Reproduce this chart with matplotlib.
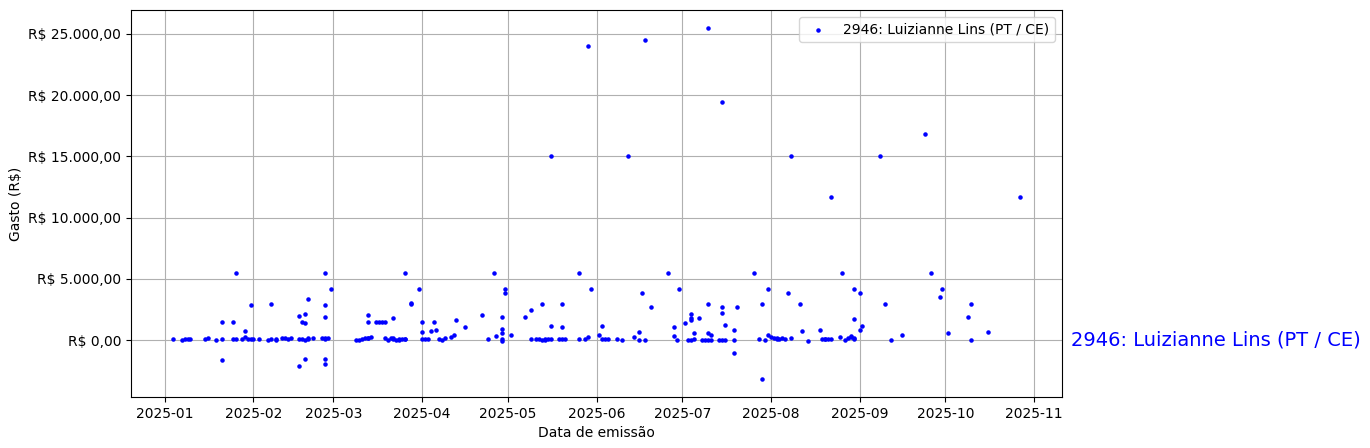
import matplotlib
matplotlib.use("Agg")
import matplotlib.pyplot as plt
import matplotlib.transforms as mtransforms
from matplotlib.ticker import FuncFormatter
import pandas as pd

serie_label = "2946: Luizianne Lins (PT / CE)"

# (data de emissão, gasto em R$)
pontos = [
    ("2025-01-04", 100), ("2025-01-07", 0), ("2025-01-08", 100), ("2025-01-09", 100),
    ("2025-01-10", 100), ("2025-01-15", 100), ("2025-01-16", 150), ("2025-01-19", 0),
    ("2025-01-21", 80), ("2025-01-21", 1450), ("2025-01-21", -1580),
    ("2025-01-25", 1450), ("2025-01-25", 80), ("2025-01-26", 80), ("2025-01-26", 5460),
    ("2025-01-28", 80), ("2025-01-29", 710), ("2025-01-29", 300), ("2025-01-30", 80),
    ("2025-01-31", 80), ("2025-01-31", 2840),
    ("2025-02-01", 80), ("2025-02-03", 80), ("2025-02-06", 0), ("2025-02-07", 80),
    ("2025-02-07", 2920), ("2025-02-09", 0), ("2025-02-09", 80), ("2025-02-11", 150),
    ("2025-02-12", 150), ("2025-02-13", 80), ("2025-02-14", 150),
    ("2025-02-17", 1940), ("2025-02-17", -2070), ("2025-02-17", 80),
    ("2025-02-18", 1470), ("2025-02-18", 80),
    ("2025-02-19", 1370), ("2025-02-19", -1500), ("2025-02-19", 0), ("2025-02-19", 2100),
    ("2025-02-20", 80), ("2025-02-20", 150), ("2025-02-20", 3330),
    ("2025-02-22", 150), ("2025-02-25", 150),
    ("2025-02-26", 150), ("2025-02-26", 1860), ("2025-02-26", 5460), ("2025-02-26", 2840),
    ("2025-02-26", -1500), ("2025-02-26", -1970), ("2025-02-26", 120),
    ("2025-02-27", 150), ("2025-02-28", 4150),
    ("2025-03-09", 50), ("2025-03-10", 0), ("2025-03-11", 80), ("2025-03-12", 150),
    ("2025-03-13", 150), ("2025-03-13", 180), ("2025-03-13", 2020), ("2025-03-13", 1450),
    ("2025-03-14", 250), ("2025-03-16", 1450), ("2025-03-17", 1450), ("2025-03-18", 1450),
    ("2025-03-19", 1450), ("2025-03-19", 150), ("2025-03-20", 0), ("2025-03-21", 150),
    ("2025-03-22", 200), ("2025-03-22", 80), ("2025-03-22", 1850), ("2025-03-23", 0),
    ("2025-03-24", 0), ("2025-03-24", 80), ("2025-03-25", 80),
    ("2025-03-26", 80), ("2025-03-26", 100), ("2025-03-26", 5460),
    ("2025-03-28", 3060), ("2025-03-28", 2920), ("2025-03-31", 4150),
    ("2025-04-01", 1450), ("2025-04-01", 630), ("2025-04-01", 80), ("2025-04-02", 80),
    ("2025-04-03", 80), ("2025-04-04", 710), ("2025-04-05", 1450), ("2025-04-06", 790),
    ("2025-04-07", 80), ("2025-04-08", 0), ("2025-04-09", 150), ("2025-04-11", 300),
    ("2025-04-12", 460), ("2025-04-13", 1610), ("2025-04-16", 1040), ("2025-04-22", 2020),
    ("2025-04-24", 80), ("2025-04-26", 5460), ("2025-04-27", 330),
    ("2025-04-29", 1860), ("2025-04-29", 950), ("2025-04-29", 550), ("2025-04-29", 80),
    ("2025-04-29", -30), ("2025-04-30", 4180), ("2025-04-30", 3820),
    ("2025-05-02", 460), ("2025-05-07", 1860), ("2025-05-09", 2430), ("2025-05-09", 80),
    ("2025-05-11", 80), ("2025-05-12", 80), ("2025-05-13", 0), ("2025-05-13", 2920),
    ("2025-05-14", 0), ("2025-05-14", 80), ("2025-05-15", 80),
    ("2025-05-16", 80), ("2025-05-16", 1120), ("2025-05-16", 15000),
    ("2025-05-19", 80), ("2025-05-20", 80), ("2025-05-20", 2920), ("2025-05-20", 1040),
    ("2025-05-21", 80), ("2025-05-26", 5460), ("2025-05-26", 80), ("2025-05-28", 80),
    ("2025-05-29", 250), ("2025-05-29", 24000), ("2025-05-30", 4180),
    ("2025-06-02", 410), ("2025-06-03", 1120), ("2025-06-03", 80), ("2025-06-04", 80),
    ("2025-06-05", 80), ("2025-06-08", 80), ("2025-06-10", 0), ("2025-06-12", 15000),
    ("2025-06-14", 220), ("2025-06-16", 630), ("2025-06-16", 50), ("2025-06-17", 3820),
    ("2025-06-18", 50), ("2025-06-18", 24450), ("2025-06-20", 2680), ("2025-06-26", 5460),
    ("2025-06-28", 1040), ("2025-06-28", 330), ("2025-06-29", 50), ("2025-06-30", 4180),
    ("2025-07-02", 1370), ("2025-07-03", 50),
    ("2025-07-04", 0), ("2025-07-04", 2100), ("2025-07-04", 1780), ("2025-07-04", 1670),
    ("2025-07-05", 80), ("2025-07-05", 550), ("2025-07-07", 1780), ("2025-07-08", 50),
    ("2025-07-09", 50), ("2025-07-10", 50), ("2025-07-10", 2920), ("2025-07-10", 550),
    ("2025-07-10", 25500), ("2025-07-11", 50), ("2025-07-11", 460), ("2025-07-14", 50),
    ("2025-07-15", 50), ("2025-07-15", 2180), ("2025-07-15", 2680), ("2025-07-15", 19400),
    ("2025-07-16", 50), ("2025-07-16", 1200),
    ("2025-07-19", 870), ("2025-07-19", 50), ("2025-07-19", -1010), ("2025-07-20", 2680),
    ("2025-07-26", 5460), ("2025-07-28", 80), ("2025-07-29", 2920), ("2025-07-29", -3200),
    ("2025-07-30", 50), ("2025-07-31", 4180), ("2025-07-31", 460),
    ("2025-08-01", 220), ("2025-08-02", 150), ("2025-08-03", 150), ("2025-08-03", 80),
    ("2025-08-04", 80), ("2025-08-05", 150), ("2025-08-06", 80), ("2025-08-07", 3820),
    ("2025-08-08", 150), ("2025-08-08", 15000), ("2025-08-11", 2920), ("2025-08-12", 710),
    ("2025-08-14", -30), ("2025-08-18", 790), ("2025-08-19", 80), ("2025-08-20", 80),
    ("2025-08-20", 100), ("2025-08-21", 80), ("2025-08-22", 80), ("2025-08-22", 11650),
    ("2025-08-25", 220), ("2025-08-26", 5460), ("2025-08-27", 50), ("2025-08-28", 150),
    ("2025-08-29", 250), ("2025-08-29", 330),
    ("2025-08-30", 150), ("2025-08-30", 80), ("2025-08-30", 4180), ("2025-08-30", 1690),
    ("2025-09-01", 3820), ("2025-09-01", 790), ("2025-09-02", 1120), ("2025-09-08", 15000),
    ("2025-09-10", 2920), ("2025-09-12", 50), ("2025-09-16", 460), ("2025-09-24", 16850),
    ("2025-09-26", 5460), ("2025-09-29", 3490), ("2025-09-30", 4180),
    ("2025-10-02", 550), ("2025-10-09", 1860), ("2025-10-10", 2920), ("2025-10-10", 50),
    ("2025-10-16", 630), ("2025-10-27", 11650),
]

datas = pd.to_datetime([p[0] for p in pontos])
valores = [p[1] for p in pontos]
yticks = [0, 5000, 10000, 15000, 20000, 25000]


def brl(v, pos=None):
    s = f"{v:,.2f}"
    s = s.replace(",", "X").replace(".", ",").replace("X", ".")
    return f"R$ {s}"


fig = plt.figure(figsize=(13.7, 4.48), dpi=100)
ax = fig.add_axes([131 / 1370, 1 - 397 / 448, (1062 - 131) / 1370, (397 - 10) / 448])

ax.scatter(datas, valores, s=5, color="blue", label=serie_label, zorder=3)
ax.set_yticks(yticks)
ax.yaxis.set_major_formatter(FuncFormatter(brl))
ax.grid(True, zorder=0)
ax.set_axisbelow(True)
ax.set_xlabel("Data de emissão")
ax.set_ylabel("Gasto (R$)")
ax.legend(loc="upper right")

trans = mtransforms.blended_transform_factory(ax.transAxes, ax.transData)
ax.text(1.0097, 0, serie_label, transform=trans, color="blue", fontsize=14,
        va="center", ha="left", clip_on=False)

fig.savefig("out.png", dpi=100)
